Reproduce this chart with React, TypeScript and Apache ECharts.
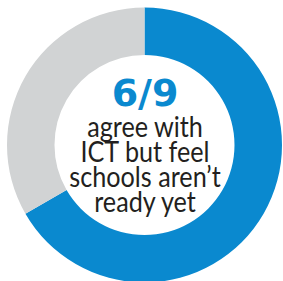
import React, { useEffect, useRef } from "react";
import * as echarts from "echarts";

const categories = ["Agree with ICT but feel schools aren't ready yet", "Other"];
const values = [6, 3];
const colors = ["#0a89cf", "#d1d3d4"];
const headline = "6/9";
const captionLines = ["agree with", "ICT but feel", "schools aren\u2019t", "ready yet"];

export default function App() {
  const ref = useRef<HTMLDivElement>(null);
  useEffect(() => {
    document.body.style.margin = "0";
    const chart = echarts.init(ref.current!, null, { renderer: "svg" });
    const cx = 145;
    const graphics: any[] = [
      {
        type: "text",
        x: cx,
        y: 93,
        style: {
          text: headline,
          fill: "#0a89cf",
          font: "bold 38px 'DejaVu Sans'",
          align: "center",
          verticalAlign: "middle",
        },
      },
      {
        type: "text",
        x: cx,
        y: 164,
        scaleX: 0.9,
        style: {
          text: captionLines.join("\n"),
          fill: "#231f20",
          fontFamily: "Lato",
          fontSize: 28,
          lineHeight: 25.3,
          align: "center",
          verticalAlign: "middle",
        },
      },
    ];
    chart.setOption({
      animation: false,
      series: [
        {
          type: "pie",
          center: [144.5, 145],
          radius: [90, 137.5],
          startAngle: 90,
          clockwise: true,
          label: { show: false },
          labelLine: { show: false },
          emphasis: { disabled: true },
          itemStyle: { borderWidth: 0 },
          data: categories.map((n, i) => ({
            name: n,
            value: values[i],
            itemStyle: { color: colors[i] },
          })),
        },
      ],
      graphic: graphics,
    });
    return () => chart.dispose();
  }, []);
  return <div ref={ref} style={{ width: 283, height: 281 }} />;
}
